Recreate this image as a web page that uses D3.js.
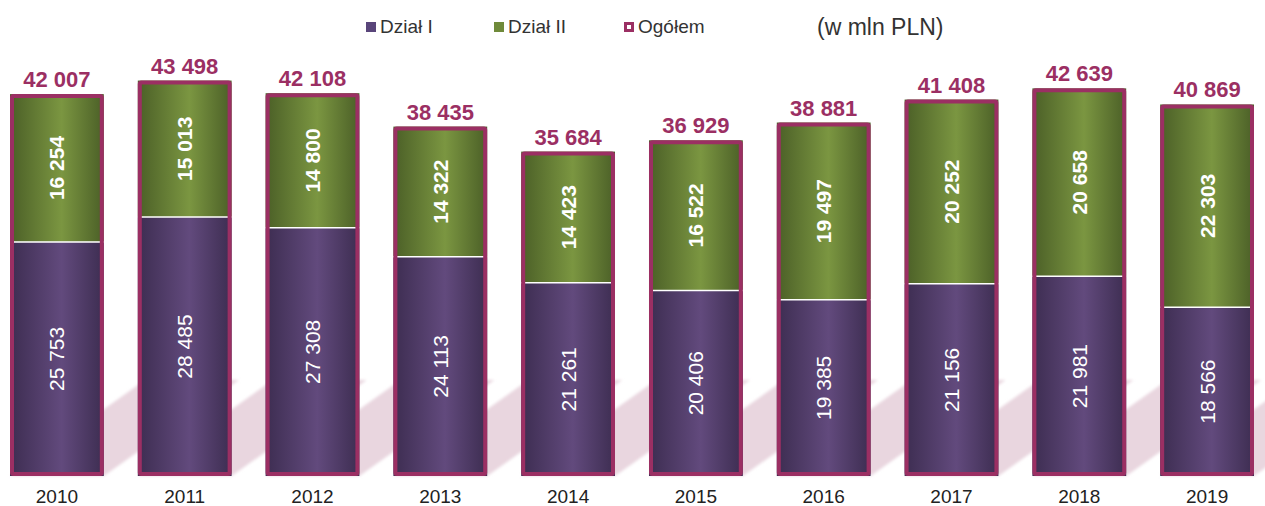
<!DOCTYPE html>
<html lang="pl">
<head>
  <meta charset="UTF-8" />
  <script src="https://d3js.org/d3.v7.min.js"></script>
  <title>Dział I / Dział II</title>
  <style>
    body { margin: 0; background: #fff; }
    text { font-family: "Liberation Sans", Arial, sans-serif; }
  </style>
</head>
<body>
<script type="text/javascript">

var years = ["2010", "2011", "2012", "2013", "2014", "2015", "2016", "2017", "2018", "2019"];
var dzialI = [25753, 28485, 27308, 24113, 21261, 20406, 19385, 21156, 21981, 18566];
var dzialII = [16254, 15013, 14800, 14322, 14423, 16522, 19497, 20252, 20658, 22303];
var ogolem = [42007, 43498, 42108, 38435, 35684, 36929, 38881, 41408, 42639, 40869];
var legendLabels = ["Dział I", "Dział II", "Ogółem"];
var unitLabel = "(w mln PLN)";

var width = 1265;
var height = 506;
var magenta = "#9b2f63";

var rows = years.map(function(y, i){ return {year: y, d1: dzialI[i], d2: dzialII[i], total: ogolem[i]}; });

var pl = d3.formatLocale({decimal: ",", thousands: " ", grouping: [3], currency: ["", " zł"]});
var fmt = pl.format(",d");

var svg = d3.select("body").append("svg").attr("width", width).attr("height", height);
var defs = svg.append("defs");

function barGrad(id, edge, mid) {
  var g = defs.append("linearGradient").attr("id", id).attr("x1", "0%").attr("x2", "100%").attr("y1", "0%").attr("y2", "0%");
  g.append("stop").attr("offset", "0%").attr("stop-color", edge);
  g.append("stop").attr("offset", "55%").attr("stop-color", mid);
  g.append("stop").attr("offset", "100%").attr("stop-color", edge);
}
barGrad("gPurple", "#3d2d51", "#624a7d");
barGrad("gGreen", "#4b5f27", "#7b9641");
defs.append("filter").attr("id", "soft").append("feGaussianBlur").attr("stdDeviation", 1.5);

var x = d3.scaleBand().domain(years).range([10, 1254]).paddingInner(0.266).paddingOuter(0);
var y = d3.scaleLinear().domain([0, 44000]).range([476, 76]);

var stack = d3.stack().keys(["d1", "d2"])(rows);

// pale shadows behind the bars
var shadowTop = 380, shadowDx = 135;
svg.append("g").attr("filter", "url(#soft)")
  .selectAll("polygon").data(rows).enter().append("polygon")
  .attr("fill", "#e9d6df")
  .attr("points", function(d){
    var x0 = x(d.year), x1 = x0 + x.bandwidth(), b = y(0);
    return [[x0, b], [x1, b], [x1 + shadowDx, shadowTop], [x0 + shadowDx, shadowTop]].join(" ");
  });

// stacked segments
var fills = ["url(#gPurple)", "url(#gGreen)"];
svg.append("g").selectAll("g").data(stack).enter().append("g")
  .attr("fill", function(d, i){ return fills[i]; })
  .selectAll("rect").data(function(d){ return d; }).enter().append("rect")
  .attr("x", function(d){ return x(d.data.year); })
  .attr("width", x.bandwidth())
  .attr("y", function(d){ return y(d[1]); })
  .attr("height", function(d){ return y(d[0]) - y(d[1]); });

// white divider between segments
svg.append("g").selectAll("line").data(rows).enter().append("line")
  .attr("x1", function(d){ return x(d.year); })
  .attr("x2", function(d){ return x(d.year) + x.bandwidth(); })
  .attr("y1", function(d){ return y(d.d1); })
  .attr("y2", function(d){ return y(d.d1); })
  .attr("stroke", "#fff").attr("stroke-width", 1.5);

// total outline
svg.append("g").selectAll("rect").data(rows).enter().append("rect")
  .attr("x", function(d){ return x(d.year) + 2; })
  .attr("width", x.bandwidth() - 4)
  .attr("y", function(d){ return y(d.total) + 2; })
  .attr("height", function(d){ return y(0) - y(d.total) - 4; })
  .attr("rx", 1.5)
  .attr("fill", "none").attr("stroke", magenta).attr("stroke-width", 4);

// totals above bars
svg.append("g").selectAll("text").data(rows).enter().append("text")
  .attr("x", function(d){ return x(d.year) + x.bandwidth() / 2; })
  .attr("y", function(d){ return y(d.total) - 7; })
  .attr("text-anchor", "middle")
  .attr("font-size", 22).attr("font-weight", "bold").attr("fill", magenta)
  .text(function(d){ return fmt(d.total); });

// segment labels, rotated
function segLabels(cls, lo, hi, val, bold) {
  svg.append("g").selectAll("text." + cls).data(rows).enter().append("text")
    .attr("class", cls)
    .attr("transform", function(d){
      var cx = x(d.year) + x.bandwidth() / 2;
      var cy = (y(lo(d)) + y(hi(d))) / 2;
      return "translate(" + cx + "," + cy + ") rotate(-90)";
    })
    .attr("text-anchor", "middle").attr("dy", "0.36em")
    .attr("font-size", 21).attr("font-weight", bold ? "bold" : "normal")
    .attr("fill", "#fff")
    .text(function(d){ return fmt(val(d)); });
}
segLabels("l1", function(){ return 0; }, function(d){ return d.d1; }, function(d){ return d.d1; }, false);
segLabels("l2", function(d){ return d.d1; }, function(d){ return d.d1 + d.d2; }, function(d){ return d.d2; }, true);

// x axis labels
svg.append("g")
  .attr("transform", "translate(0," + 503 + ")")
  .selectAll("text").data(years).enter().append("text")
  .attr("x", function(d){ return x(d) + x.bandwidth() / 2; })
  .attr("text-anchor", "middle").attr("font-size", 19).attr("fill", "#222")
  .text(function(d){ return d; });

// legend
var legendX = [366, 494, 624];
var lg = svg.append("g").selectAll("g").data(legendLabels).enter().append("g")
  .attr("transform", function(d, i){ return "translate(" + legendX[i] + ",22)"; });
lg.append("rect")
  .attr("x", function(d, i){ return i === 2 ? 1.5 : 0; })
  .attr("y", function(d, i){ return i === 2 ? 1.5 : 0; })
  .attr("width", function(d, i){ return i === 2 ? 7 : 10; })
  .attr("height", function(d, i){ return i === 2 ? 7 : 10; })
  .attr("fill", function(d, i){ return ["#59457a", "#6f8a3a", "#fff"][i]; })
  .attr("stroke", function(d, i){ return i === 2 ? magenta : "none"; })
  .attr("stroke-width", 3);
lg.append("text")
  .attr("x", 14).attr("y", 11)
  .attr("font-size", 19).attr("fill", "#333")
  .text(function(d){ return d; });

svg.append("text").attr("x", 817).attr("y", 35)
  .attr("font-size", 23).attr("fill", "#333").text(unitLabel);

</script>
</body>
</html>
